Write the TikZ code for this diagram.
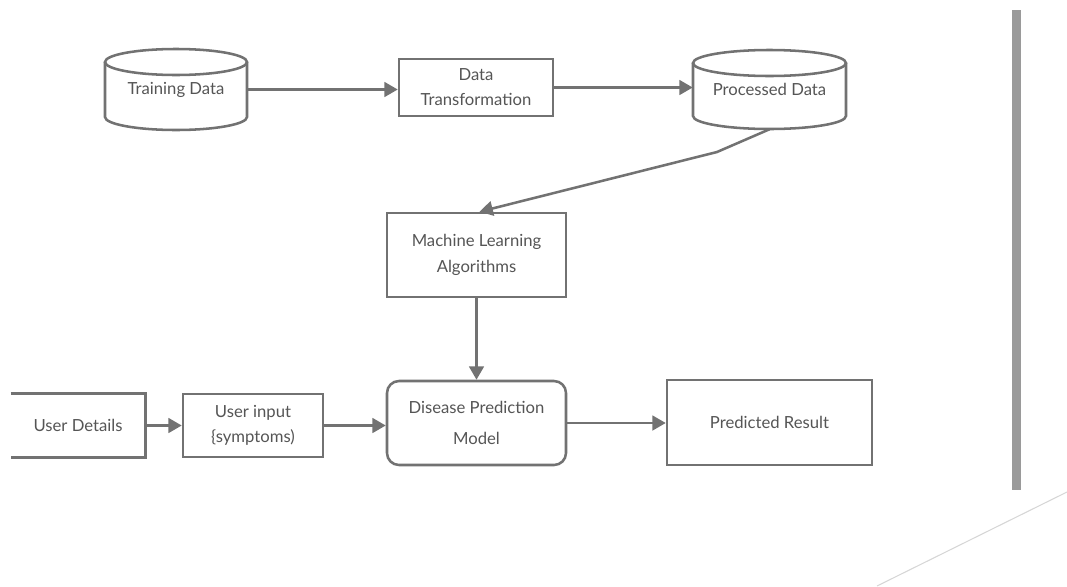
\documentclass[tikz,border=0pt]{standalone}
\usepackage{fontspec}
\setmainfont{Lato}
\usetikzlibrary{arrows.meta,calc}
\definecolor{edge}{HTML}{727272}
\definecolor{ink}{HTML}{555555}
\definecolor{barc}{HTML}{9A9A9A}
\definecolor{faint}{HTML}{D6D6D6}
\tikzset{
  base/.style={font=\fontsize{12.5}{18.75}\selectfont, text=ink, align=center, inner sep=0pt},
  boxnode/.style={base, draw=edge, line width=1.9pt},
  roundbox/.style={boxnode, rounded corners=9pt},
  ghost/.style={base},
  flow/.style={draw=edge, line width=1.9pt, -{Triangle[length=10pt,width=11pt]}},
  outline/.style={draw=edge, line width=1.9pt},
}
\begin{document}
\begin{tikzpicture}[x=0.75pt,y=-0.75pt]
\useasboundingbox (0,0) rectangle (1067,586);

% data stores (cylinders drawn around plain nodes)
\node[ghost, minimum width=106.5pt, minimum height=60.75pt] (td) at (176,89.5) {Training Data};
\node[ghost, minimum width=114.75pt, minimum height=59.25pt] (pd) at (769.5,89.5) {Processed Data};
\foreach \c/\l/\r/\t/\b in {td/105/247/49/130, pd/693/846/50/129}{
  \pgfmathsetmacro{\rx}{(\r-\l)/2}
  \pgfmathsetmacro{\cx}{(\r+\l)/2}
  \draw[outline] (\cx,\t+13) ellipse [x radius=\rx, y radius=13];
  \draw[outline] (\l,\t+13) -- (\l,\b-13)
     arc[start angle=180, end angle=0, x radius=\rx, y radius=13] -- (\r,\t+13);
}

% process boxes
\node[boxnode, minimum width=115.5pt, minimum height=42.75pt] (dt) at (476,87.5) {Data\\Transformation};
\node[boxnode, minimum width=134.25pt, minimum height=63pt] (ml) at (476.5,255) {Machine Learning\\[1pt]Algorithms};
\node[roundbox, minimum width=134.25pt, minimum height=63pt] (dpm) at (476.5,423) {Disease Prediction\\[5pt]Model};
\node[boxnode, minimum width=105pt, minimum height=47.25pt] (ui) at (253,425.5) {User input\\\{symptoms)};
\node[boxnode, minimum width=153.75pt, minimum height=63.75pt] (pr) at (769.5,422.5) {Predicted Result};
\node[ghost, minimum width=100.5pt, minimum height=47.25pt] (ud) at (78,425.5) {User Details};
\draw[outline] (ud.north west) -- (ud.north east) -- (ud.south east) -- (ud.south west);

% connectors
\draw[flow] (td.east) -- (td.east -| dt.west);
\draw[flow] (dt.east) -- (dt.east -| pd.west);
\coordinate (bend) at (717,152);
\draw[flow] (pd.south) -- (bend) -- ($(ml.north)+(3,0)$);
\draw[flow] (ml.south) -- (dpm.north);
\draw[flow] (ud.east) -- (ui.west);
\draw[flow] (ui.east) -- (ui.east -| dpm.west);
\draw[flow] (dpm.east) -- (dpm.east -| pr.west);

% side decoration
\fill[barc] (1012,10) rectangle (1021,490);
\draw[faint, line width=0.8pt] (1067,492) -- (877,586);
\end{tikzpicture}
\end{document}
